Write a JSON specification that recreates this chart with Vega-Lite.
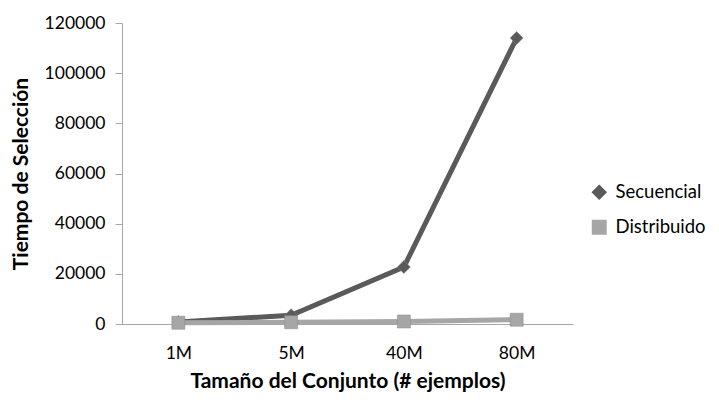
{
  "$schema": "https://vega.github.io/schema/vega-lite/v6.json",
  "width": 451,
  "height": 301,
  "autosize": {"type": "none"},
  "padding": {"left": 122, "top": 23, "right": 146, "bottom": 79},
  "background": "white",
  "config": {
    "view": {"stroke": null},
    "font": "Lato",
    "legend": {
      "orient": "none",
      "legendX": 468,
      "legendY": 160,
      "labelFontSize": 18.5,
      "labelColor": "#000",
      "symbolSize": 180,
      "rowPadding": 15,
      "labelOffset": 7,
      "titleFontSize": 0
    }
  },
  "data": {
    "values": [
      {"size": "1M", "series": "Secuencial", "time": 800},
      {"size": "5M", "series": "Secuencial", "time": 3500},
      {"size": "40M", "series": "Secuencial", "time": 22700},
      {"size": "80M", "series": "Secuencial", "time": 114000},
      {"size": "1M", "series": "Distribuido", "time": 500},
      {"size": "5M", "series": "Distribuido", "time": 700},
      {"size": "40M", "series": "Distribuido", "time": 1000},
      {"size": "80M", "series": "Distribuido", "time": 1700}
    ]
  },
  "encoding": {
    "x": {
      "field": "size", "type": "ordinal",
      "sort": ["1M", "5M", "40M", "80M"],
      "scale": {"type": "point", "padding": 0.5},
      "axis": {
        "title": "Tamaño del Conjunto (# ejemplos)",
        "titleFontSize": 21, "titleFontWeight": "bold", "titleColor": "#000",
        "titlePadding": 9,
        "labelAngle": 0, "labelFontSize": 17.5, "labelColor": "#000", "labelPadding": 20,
        "ticks": false, "domainColor": "#a6a6a6", "domainWidth": 1
      }
    },
    "y": {
      "field": "time", "type": "quantitative",
      "scale": {"domain": [0, 120000], "nice": false},
      "axis": {
        "title": "Tiempo de Selección",
        "titleFontSize": 21, "titleFontWeight": "bold", "titleColor": "#000",
        "titlePadding": 13,
        "values": [0, 20000, 40000, 60000, 80000, 100000, 120000],
        "format": "d",
        "labelFontSize": 17.5, "labelColor": "#000", "labelPadding": 10,
        "tickSize": 7, "tickColor": "#a6a6a6", "domainColor": "#a6a6a6",
        "grid": false
      }
    },
    "color": {
      "field": "series", "type": "nominal",
      "scale": {"domain": ["Secuencial", "Distribuido"], "range": ["#5a5a5a", "#a6a6a6"]},
      "title": ""
    }
  },
  "layer": [
    {
      "mark": {"type": "line", "strokeWidth": 5},
      "encoding": {"detail": {"field": "series"}}
    },
    {
      "mark": {"type": "point", "filled": true, "opacity": 1, "size": 170, "stroke": "#888", "strokeWidth": 0.5},
      "encoding": {
        "shape": {
          "field": "series", "type": "nominal",
          "scale": {"domain": ["Secuencial", "Distribuido"], "range": ["diamond", "square"]},
          "title": ""
        }
      }
    }
  ]
}
